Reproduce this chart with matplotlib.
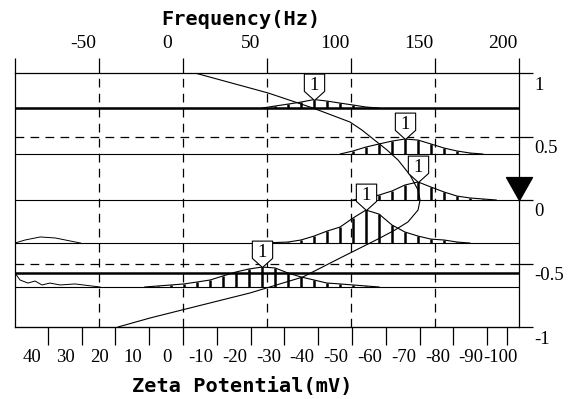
import matplotlib
matplotlib.use('Agg')
import matplotlib.pyplot as plt
from matplotlib.path import Path
from matplotlib.transforms import ScaledTranslation, blended_transform_factory

# axis ticks / labels
freq_ticks = [-100, -50, 0, 50, 100, 150, 200]
freq_labels = ['', '-50', '0', '50', '100', '150', '200']
zeta_ticks = [40, 30, 20, 10, 0, -10, -20, -30, -40, -50, -60, -70, -80, -90, -96]
zeta_labels = ['40', '30', '20', '10', '0', '-10', '-20', '-30', '-40', '-50',
               '-60', '-70', '-80', '-90', '-100']
level_ticks = [1, 0.5, 0, -0.5, -1]
level_labels = ['1', '0.5', '0', '-0.5', '-1']

HZ_PER_MV = 2.012   # frequency shift per mV of zeta potential

# distributions: baseline level, bar centres (Hz), bar heights above baseline
base1 = 0.724
bins1 = [54.8, 62.5, 70.2, 78.0, 85.7, 93.5, 101.2, 108.9]
h1 = [0.016, 0.031, 0.047, 0.067, 0.055, 0.039, 0.024, 0.008]

base2 = 0.362
bins2 = [101.2, 108.9, 116.7, 124.4, 132.1, 139.9, 147.6, 155.4, 163.1, 170.8]
h2 = [0.024, 0.055, 0.079, 0.102, 0.118, 0.110, 0.079, 0.047, 0.024, 0.008]

base3 = 0.0
bins3 = [108.9, 116.7, 124.4, 132.1, 139.9, 147.6, 155.4, 163.1, 170.8, 178.6]
h3 = [0.016, 0.039, 0.071, 0.118, 0.142, 0.102, 0.063, 0.031, 0.016, 0.008]

base4 = -0.339
bins4 = [54.8, 62.5, 70.2, 78.0, 85.7, 93.5, 101.2, 108.9, 116.7, 124.4,
         132.1, 139.9, 147.6, 155.4, 163.1]
h4 = [0.004, 0.008, 0.024, 0.055, 0.094, 0.126, 0.197, 0.260, 0.228, 0.142,
      0.087, 0.055, 0.031, 0.024, 0.008]

base5 = -0.685
bins5 = [-14.9, -7.1, 0.6, 8.3, 16.1, 23.8, 31.5, 39.3, 47.0, 54.8, 62.5,
         70.2, 78.0, 85.7, 93.5, 101.2, 108.9]
h5 = [0.008, 0.016, 0.024, 0.039, 0.055, 0.087, 0.118, 0.142, 0.157, 0.150,
      0.110, 0.079, 0.055, 0.031, 0.024, 0.016, 0.008]

# reference (heavy) lines
ref_levels = [0.724, -0.575]

# noisy start of traces 4 and 5 at the left edge
noise4_f = [-100, -94, -85, -76, -61]
noise4_v = [-0.339, -0.315, -0.291, -0.299, -0.339]
noise5_f = [-100, -97, -92.3, -88.1, -83.9, -79.2, -73.2, -64.3, -49.4]
noise5_v = [-0.575, -0.630, -0.654, -0.638, -0.669, -0.654, -0.669, -0.661, -0.685]

# peak position vs level curve
curve_f = [7.1, 50.6, 77.4, 99.4, 106.5, 121.4, 128.0, 135.1, 139.9, 141.1,
           139.9, 133.9, 126.2, 117.3, 93.5, 71.4, 39.9, 4.2, -19.6, -38.7]
curve_v = [1.0, 0.843, 0.724, 0.614, 0.551, 0.394, 0.315, 0.197, 0.079, 0.0,
           -0.079, -0.173, -0.236, -0.299, -0.457, -0.606, -0.732, -0.85, -0.929, -1.0]

traces = [(base1, bins1, h1), (base2, bins2, h2), (base3, bins3, h3),
          (base4, bins4, h4), (base5, bins5, h5)]

W, H = 575, 399
fig = plt.figure(figsize=(W / 100, H / 100), dpi=100)
ax = fig.add_axes([15 / W, 1 - 327 / H, 504 / W, 254 / H])
ax.set_xlim(-100, 200)
ax.set_ylim(-1, 1)
for s in ax.spines.values():
    s.set_linewidth(0.9)

# grid
for f in freq_ticks[1:-1]:
    ax.axvline(f, color='black', lw=0.9, dashes=(7, 5))
for v in [0.5, -0.5]:
    ax.axhline(v, color='black', lw=0.9, dashes=(7, 5))
for v in ref_levels:
    ax.axhline(v, color='black', lw=1.8)

ax.plot(noise4_f, noise4_v, color='black', lw=0.7)
ax.plot(noise5_f, noise5_v, color='black', lw=0.7)

# pentagon label marker, tip at origin
pent = Path([(-10, 26), (10, 26), (10, 9), (0, 0), (-10, 9), (-10, 26)],
            [Path.MOVETO, Path.LINETO, Path.LINETO, Path.LINETO, Path.LINETO, Path.CLOSEPOLY])

for base, bins, h in traces:
    ax.axhline(base, color='black', lw=0.8)
    step = bins[1] - bins[0]
    xs = [bins[0] - step] + bins + [bins[-1] + step]
    ys = [base] + [base + v for v in h] + [base]
    ax.plot(xs, ys, color='black', lw=0.8)
    ax.vlines(bins, base, [base + v for v in h], color='black', lw=1.8)
    k = h.index(max(h))
    ax.plot([bins[k]], [base + h[k]], marker=pent, ms=38, mfc='white',
            mec='black', mew=0.8, zorder=5)
    ax.annotate('1', (bins[k], base + h[k]), xytext=(0, 7.2), textcoords='offset points',
                ha='center', va='baseline', fontsize=13.5, family='Liberation Serif', zorder=6)

ax.plot(curve_f, curve_v, color='black', lw=0.8)

# zero marker on right edge
tri = Path([(0, 0), (-13, 23), (13, 23), (0, 0)],
           [Path.MOVETO, Path.LINETO, Path.LINETO, Path.CLOSEPOLY])
ax.plot([200], [0], marker=tri, ms=33, color='black', clip_on=False, zorder=6)

# ticks
ax.set_xticks(freq_ticks)
ax.tick_params(axis='x', bottom=False, top=True, labelbottom=False, labeltop=False,
               length=11, width=0.9, direction='out')
ax.set_yticks(level_ticks)
ax.tick_params(axis='y', left=False, right=True, labelleft=False, labelright=False,
               length=10, width=0.9, direction='out')

sec = ax.secondary_xaxis('bottom', functions=(lambda f: -f / HZ_PER_MV,
                                              lambda z: -z * HZ_PER_MV))
sec.set_xticks(zeta_ticks)
sec.tick_params(length=13, width=0.9, direction='out', labelbottom=False)

serif = dict(family='Liberation Serif', fontsize=13.5)
px = lambda n: n / 100.0

top_tr = blended_transform_factory(ax.transData, fig.transFigure)
for f, lab in zip(freq_ticks, freq_labels):
    ax.text(f, 1 - 44 / H, lab, ha='center', va='center', fontsize=14,
            family='Liberation Serif',
            transform=top_tr + ScaledTranslation(px(-16), 0, fig.dpi_scale_trans))

for z, lab in zip(zeta_ticks, zeta_labels):
    shift = -7 if lab == '-100' else -16
    ax.text(-z * HZ_PER_MV, 1 - 358 / H, lab, ha='center', va='center',
            transform=top_tr + ScaledTranslation(px(shift), 0, fig.dpi_scale_trans), **serif)

right_tr = blended_transform_factory(fig.transFigure, ax.transData)
for v, lab in zip(level_ticks, level_labels):
    ax.text(534 / W, v, lab, ha='left', va='center',
            transform=right_tr + ScaledTranslation(0, px(-12), fig.dpi_scale_trans), **serif)

mono = dict(family='DejaVu Sans Mono', fontweight='bold', fontsize=14.6)
fig.text(241 / W, 1 - 25 / H, 'Frequency(Hz)', ha='center', va='baseline', **mono)
fig.text(242 / W, 1 - 392 / H, 'Zeta Potential(mV)', ha='center', va='baseline', **mono)

fig.savefig('out.png', dpi=100)
